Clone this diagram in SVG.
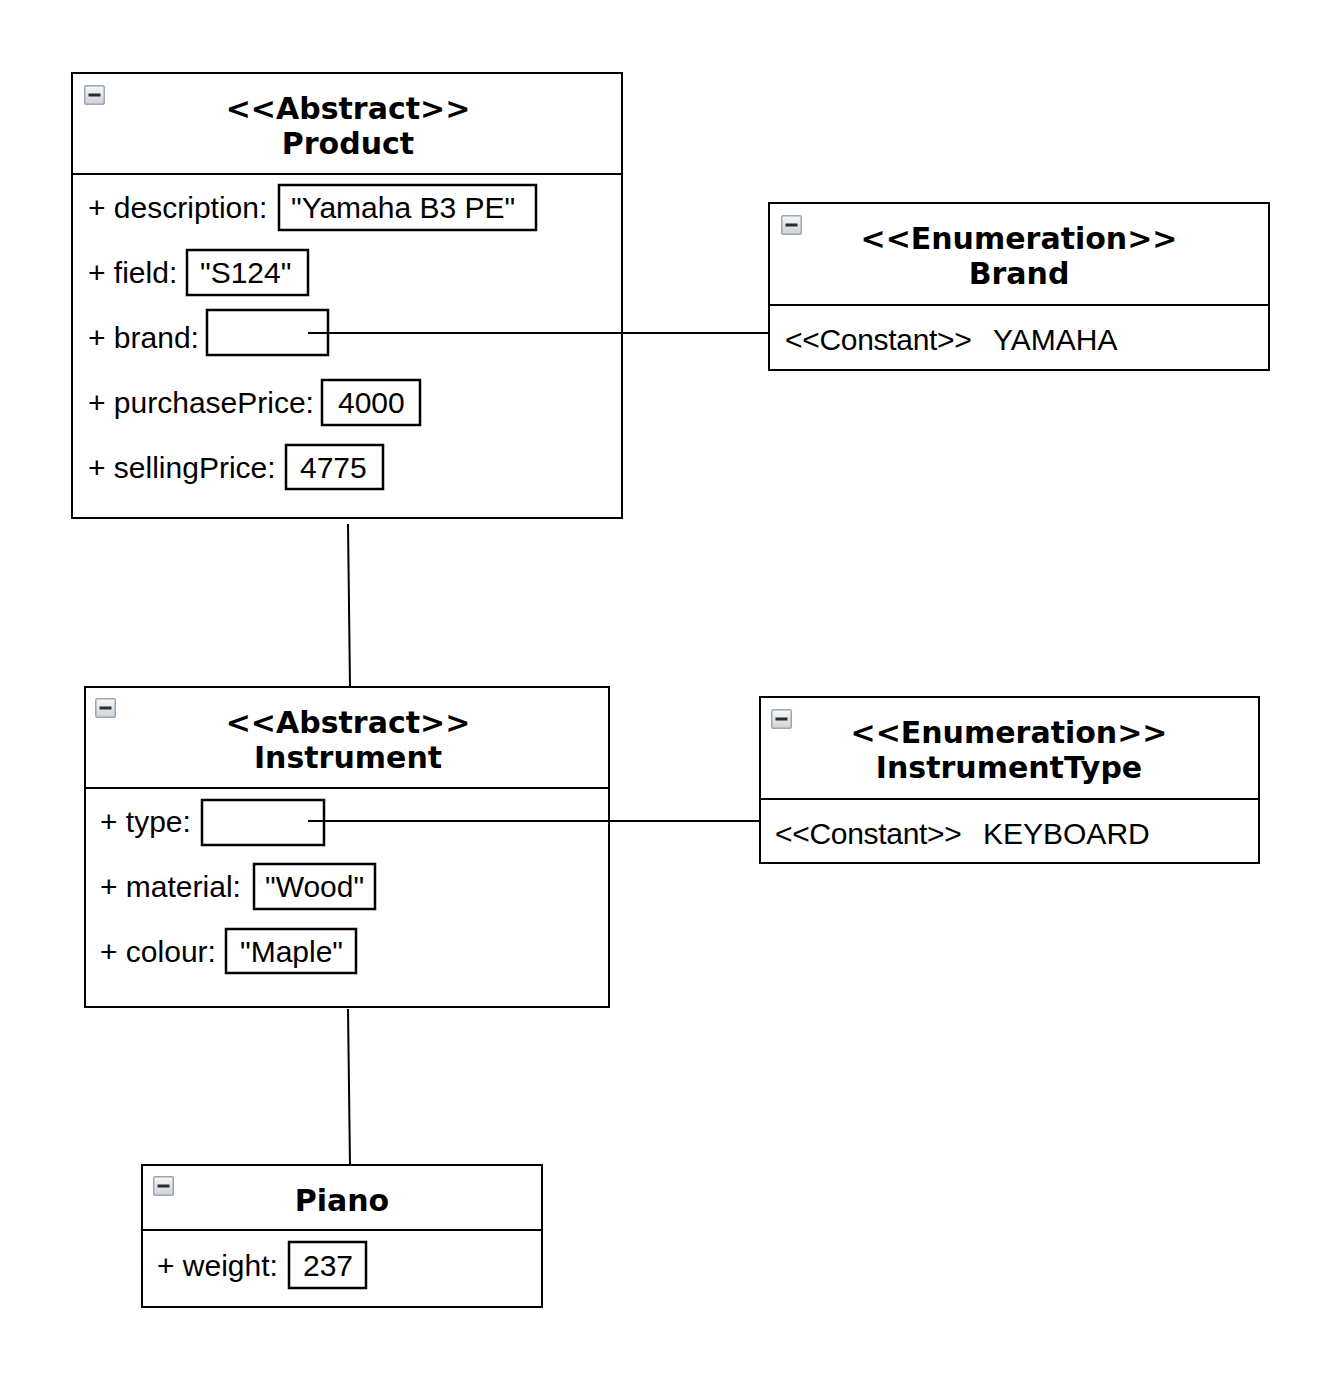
<svg xmlns="http://www.w3.org/2000/svg" width="1342" height="1390" viewBox="0 0 1342 1390">
  <style>
    .box { fill: #ffffff; stroke: #000000; stroke-width: 2; }
    .div { stroke: #000000; stroke-width: 2; }
    .val { fill: none; stroke: #000000; stroke-width: 2.5; }
    .title { font-family: "DejaVu Sans", Verdana, sans-serif; font-weight: bold; font-size: 30px; text-anchor: middle; fill: #000000; }
    .attr { font-family: "Liberation Sans", Arial, Helvetica, sans-serif; font-size: 30px; fill: #000000; }
    .conn { stroke: #000000; stroke-width: 2; fill: none; }
  </style>
  <defs>
    <linearGradient id="iconFill" x1="0" y1="0" x2="0" y2="1">
      <stop offset="0" stop-color="#f6f8fa"/>
      <stop offset="1" stop-color="#cdd3d9"/>
    </linearGradient>
    <!-- collapse toggle shown in each class header -->
    <g id="collapse">
      <rect x="0.75" y="0.75" width="19.5" height="18.5" rx="1.5" fill="url(#iconFill)" stroke="#9aa6b2" stroke-width="1.5"/>
      <rect x="4.5" y="8.5" width="12" height="3" fill="#2a2a2a"/>
    </g>
  </defs>

  <rect width="1342" height="1390" fill="#ffffff"/>

  <!-- Product -->
  <g id="product">
    <rect class="box" x="72" y="73" width="550" height="445"/>
    <line class="div" x1="72" y1="174" x2="622" y2="174"/>
    <use href="#collapse" x="84" y="85"/>
    <text class="title" x="348" y="119">&lt;&lt;Abstract&gt;&gt;</text>
    <text class="title" x="348" y="154">Product</text>
    <text class="attr" x="88" y="218">+ description:</text>
    <rect class="val" x="279" y="185" width="257" height="45"/>
    <text class="attr" x="291" y="218">"Yamaha B3 PE"</text>
    <text class="attr" x="88" y="283">+ field:</text>
    <rect class="val" x="187" y="250" width="121" height="45"/>
    <text class="attr" x="200" y="283">"S124"</text>
    <text class="attr" x="88" y="348">+ brand:</text>
    <rect class="val" x="207" y="310" width="121" height="45"/>
    <text class="attr" x="88" y="413">+ purchasePrice:</text>
    <rect class="val" x="322" y="380" width="98" height="45"/>
    <text class="attr" x="338" y="413">4000</text>
    <text class="attr" x="88" y="478">+ sellingPrice:</text>
    <rect class="val" x="286" y="445" width="97" height="44"/>
    <text class="attr" x="300" y="478">4775</text>
  </g>

  <!-- Brand enumeration -->
  <g id="brand">
    <rect class="box" x="769" y="203" width="500" height="167"/>
    <line class="div" x1="769" y1="305" x2="1269" y2="305"/>
    <use href="#collapse" x="781" y="215"/>
    <text class="title" x="1019" y="249">&lt;&lt;Enumeration&gt;&gt;</text>
    <text class="title" x="1019" y="284">Brand</text>
    <text class="attr" x="785" y="350" letter-spacing="-0.3">&lt;&lt;Constant&gt;&gt;<tspan x="993" letter-spacing="0">YAMAHA</tspan></text>
  </g>

  <!-- Instrument -->
  <g id="instrument">
    <rect class="box" x="85" y="687" width="524" height="320"/>
    <line class="div" x1="85" y1="788" x2="609" y2="788"/>
    <use href="#collapse" x="95" y="698"/>
    <text class="title" x="348" y="733">&lt;&lt;Abstract&gt;&gt;</text>
    <text class="title" x="348" y="768">Instrument</text>
    <text class="attr" x="100" y="832">+ type:</text>
    <rect class="val" x="202" y="800" width="122" height="45"/>
    <text class="attr" x="100" y="897">+ material:</text>
    <rect class="val" x="254" y="864" width="121" height="45"/>
    <text class="attr" x="265" y="897">"Wood"</text>
    <text class="attr" x="100" y="962">+ colour:</text>
    <rect class="val" x="226" y="929" width="130" height="44"/>
    <text class="attr" x="240" y="962">"Maple"</text>
  </g>

  <!-- InstrumentType enumeration -->
  <g id="instrument-type">
    <rect class="box" x="760" y="697" width="499" height="166"/>
    <line class="div" x1="760" y1="799" x2="1259" y2="799"/>
    <use href="#collapse" x="771" y="709"/>
    <text class="title" x="1009" y="743">&lt;&lt;Enumeration&gt;&gt;</text>
    <text class="title" x="1009" y="778">InstrumentType</text>
    <text class="attr" x="775" y="844" letter-spacing="-0.3">&lt;&lt;Constant&gt;&gt;<tspan x="983" letter-spacing="0">KEYBOARD</tspan></text>
  </g>

  <!-- Piano -->
  <g id="piano">
    <rect class="box" x="142" y="1165" width="400" height="142"/>
    <line class="div" x1="142" y1="1230" x2="542" y2="1230"/>
    <use href="#collapse" x="153" y="1176"/>
    <text class="title" x="342" y="1211">Piano</text>
    <text class="attr" x="157" y="1276">+ weight:</text>
    <rect class="val" x="289" y="1242" width="77" height="46"/>
    <text class="attr" x="303" y="1276">237</text>
  </g>

  <!-- connectors, drawn over the boxes so they run into the attribute slots -->
  <g id="connectors">
    <line class="conn" x1="308" y1="333" x2="769" y2="333"/>
    <line class="conn" x1="348" y1="524" x2="350" y2="687"/>
    <line class="conn" x1="308" y1="821" x2="760" y2="821"/>
    <line class="conn" x1="348" y1="1009" x2="350" y2="1165"/>
  </g>
</svg>
